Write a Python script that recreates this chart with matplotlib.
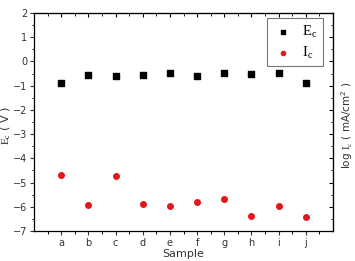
import matplotlib
matplotlib.use('Agg')
import matplotlib.pyplot as plt
import numpy as np

plt.rcParams['mathtext.fontset'] = 'stix'

# Dados
samples = ['a', 'b', 'c', 'd', 'e', 'f', 'g', 'h', 'i', 'j']
ec = [-0.88, -0.57, -0.60, -0.55, -0.48, -0.59, -0.48, -0.51, -0.46, -0.88]
log_ic = [-4.69, -5.93, -4.72, -5.87, -5.95, -5.82, -5.68, -6.40, -5.97, -6.44]

x = np.arange(1, len(samples) + 1)

fig = plt.figure(figsize=(3.55, 2.61), dpi=100)
ax = fig.add_axes([0.096, 0.115, 0.842, 0.835])

ax.scatter(x, ec, marker='s', s=14, color='black', label='E$_\\mathregular{c}$', zorder=3)
ax.scatter(x, log_ic, marker='o', s=16, color='#e3161b', label='I$_\\mathregular{c}$', zorder=3)

ax.set_xlim(0, 11)
ax.set_ylim(-7, 2)
ax.set_xticks(x)
ax.set_xticklabels(samples)
ax.set_xticks(np.arange(0.5, 11, 1), minor=True)
ax.set_yticks(np.arange(-7, 3, 1))
ax.set_yticks(np.arange(-6.5, 2, 1), minor=True)
ax.tick_params(axis='both', which='major', direction='out', length=3, width=0.8,
               labelsize=7, colors='#333333', pad=2)
ax.tick_params(axis='both', which='minor', direction='out', length=1.8, width=0.7)
for s in ax.spines.values():
    s.set_linewidth(0.9)

# eixos espelhados (topo e direita) com ticks para dentro
axt = ax.secondary_xaxis('top')
axt.set_xticks(x)
axt.set_xticks(np.arange(0.5, 11, 1), minor=True)
axt.tick_params(which='major', direction='in', length=3, labeltop=False)
axt.tick_params(which='minor', direction='in', length=1.8)
axr = ax.secondary_yaxis('right')
axr.set_yticks(np.arange(-7, 3, 1))
axr.set_yticks(np.arange(-6.5, 2, 1), minor=True)
axr.tick_params(which='major', direction='in', length=3, labelright=False)
axr.tick_params(which='minor', direction='in', length=1.8)

fig.text(347 / 355, 0.52, 'log $\\mathrm{I}_\\mathrm{c}$ ( mA/cm$^\\mathregular{2}$ )',
         rotation=90, ha='center', va='center', fontsize=7.5, color='#333333')
fig.text(6 / 355, 0.52, '$\\mathrm{E}_\\mathrm{c}$ ( V )',
         rotation=90, ha='center', va='center', fontsize=8, color='#333333')

ax.set_xlabel('Sample', fontsize=8, color='#333333', labelpad=1)

leg = ax.legend(loc='upper right', bbox_to_anchor=(0.966, 0.975), frameon=True,
                fancybox=False, edgecolor='#777777', framealpha=1,
                handletextpad=0.5, handlelength=1.6, borderpad=0.35,
                labelspacing=0.35, borderaxespad=0,
                prop={'family': 'Liberation Serif', 'size': 10.5},
                markerscale=0.75)
leg.get_frame().set_linewidth(0.8)

fig.savefig('out.png', dpi=100)
